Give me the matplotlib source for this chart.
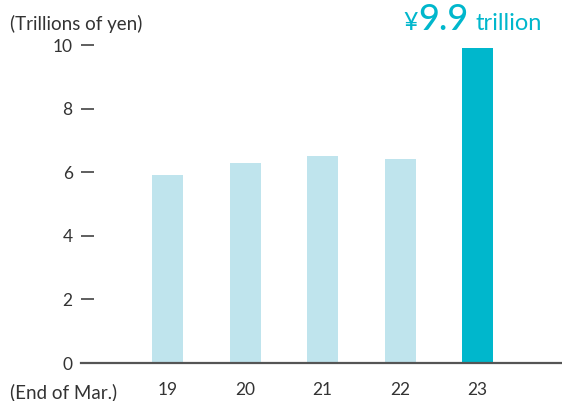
import matplotlib
matplotlib.use("Agg")
import matplotlib.pyplot as plt

categories = ["19", "20", "21", "22", "23"]
values = [5.9, 6.3, 6.5, 6.4, 9.9]
y_ticks = [0, 2, 4, 6, 8, 10]

light = "#bfe4ed"
accent = "#00b7cc"
text_c = "#333333"
font = "Lato"

W, H = 562, 401
fig = plt.figure(figsize=(W / 100, H / 100), dpi=100)
left_px, right_px, base_px, top_px = 81, 562, 363, 45
ax = fig.add_axes([left_px / W, (H - base_px) / H, (right_px - left_px) / W, (base_px - top_px) / H])

x = list(range(len(categories)))
colors = [light] * (len(categories) - 1) + [accent]
ax.bar(x, values, width=0.4, color=colors, zorder=2)

spacing = 77.5
c0 = 167.5
ax.set_xlim((left_px - c0) / spacing, (right_px - c0) / spacing)
ax.set_ylim(0, 10)

for s in ["top", "right", "left"]:
    ax.spines[s].set_visible(False)
ax.spines["bottom"].set_color("#555555")
ax.spines["bottom"].set_linewidth(1.6)
ax.spines["bottom"].set_zorder(3)

ax.set_yticks(y_ticks)
ax.set_yticklabels([str(t) for t in y_ticks], fontsize=12.5, color=text_c, family=font)
ax.tick_params(axis="y", direction="in", length=9, width=1.1, color=text_c, pad=6)
ax.set_xticks(x)
ax.set_xticklabels(categories, fontsize=12.5, color=text_c, family=font)
ax.tick_params(axis="x", length=0, pad=14)

fig.text(10 / W, 1 - 24 / H, "(Trillions of yen)", fontsize=13.5, color=text_c, family=font, va="center", ha="left")
fig.text(10 / W, 1 - 392 / H, "(End of Mar.)", fontsize=13.5, color=text_c, family=font, va="center", ha="left")

# highlight annotation above last bar
last = len(values) - 1
ax.annotate("¥", xy=(x[last], values[last]), xytext=(-60, 18), textcoords="offset pixels",
            ha="right", va="baseline", fontsize=18, color=accent, family=font, annotation_clip=False)
ax.annotate("9.9", xy=(x[last], values[last]), xytext=(-59, 18), textcoords="offset pixels",
            ha="left", va="baseline", fontsize=26, fontweight="medium", color=accent, family=font,
            annotation_clip=False)
ax.annotate("trillion", xy=(x[last], values[last]), xytext=(-2, 18), textcoords="offset pixels",
            ha="left", va="baseline", fontsize=17, color=accent, family=font, annotation_clip=False)

fig.savefig("out.png", dpi=100)
